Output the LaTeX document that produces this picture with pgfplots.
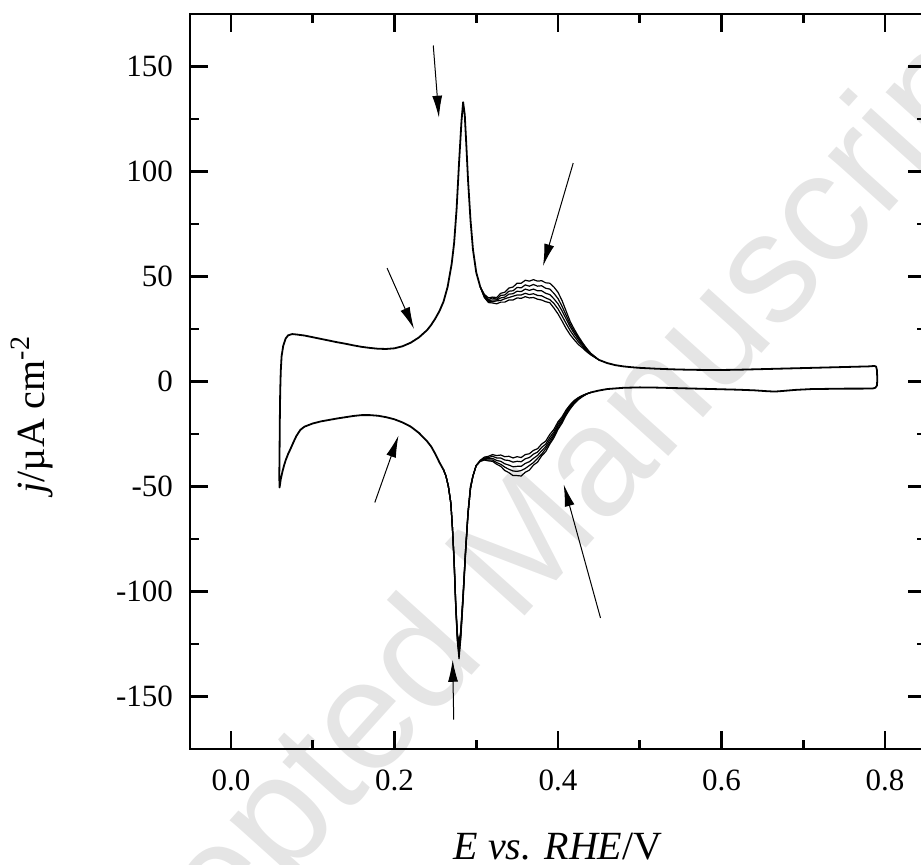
\documentclass[border=0pt]{standalone}
\usepackage{fontspec}
\setmainfont{Liberation Serif}
\newfontfamily\wmfont{Liberation Sans}
\usepackage{pgfplots}
\pgfplotsset{compat=1.18}
\usetikzlibrary{arrows.meta}

\begin{document}
\begin{tikzpicture}
% watermark behind the chart
\node[rotate=48, text=black!10, font=\wmfont\fontsize{78}{80}\selectfont] at (160pt,88pt) {Accepted Manuscript};

\begin{axis}[
    scale only axis, width=368pt, height=367.5pt,
    xmin=-0.05, xmax=0.85, ymin=-175, ymax=175,
    xtick={0,0.2,0.4,0.6,0.8},
    ytick={-150,-100,-50,0,50,100,150},
    minor x tick num=1, minor y tick num=1,
    tick align=inside,
    major tick length=9pt, minor tick length=4.5pt,
    tick style={line width=1.3pt, black},
    axis line style={line width=1.3pt},
    /pgf/number format/assume math mode=true,
    tick label style={font=\fontsize{15.5}{18}\selectfont},
    x tick label style={/pgf/number format/.cd, fixed, fixed zerofill, precision=1, /tikz/.cd, yshift=-7pt},
    y tick label style={xshift=-5pt},
    label style={font=\fontsize{20}{24}\selectfont},
    xlabel={\textit{E vs. RHE}/V},
    ylabel={\textit{j}/µA cm\textsuperscript{-2}},
    xlabel style={at={(axis description cs:0.5,-0.151)}, anchor=base},
    ylabel style={at={(axis description cs:-0.177,0.455)}, anchor=south},
]

% common part: cathodic tail, turn at 0.06 V, anodic scan and hydrogen peak
\addplot[black, line width=0.9pt, line join=round] coordinates {
(0.260,-42.0) (0.255,-38.5) (0.250,-34.5) (0.245,-31.0) (0.240,-28.5) (0.235,-26.5)
(0.230,-24.5) (0.220,-21.5) (0.210,-19.5) (0.200,-18.0) (0.190,-17.0) (0.180,-16.3)
(0.170,-16.0) (0.160,-16.0) (0.150,-16.4) (0.140,-17.0) (0.130,-17.6) (0.120,-18.3)
(0.110,-19.0) (0.100,-20.0) (0.090,-21.5) (0.085,-23.0) (0.080,-26.0) (0.077,-28.5)
(0.073,-32.0) (0.070,-34.5) (0.067,-37.5) (0.065,-40.0) (0.063,-43.0) (0.061,-46.5)
(0.0595,-50.5) (0.0592,-45) (0.0595,-35) (0.0598,-20) (0.0603,-5) (0.061,5) (0.062,12)
(0.064,17) (0.067,20.5) (0.070,22) (0.075,22.6) (0.080,22.4) (0.090,21.9) (0.100,21.1)
(0.110,20.3) (0.120,19.5) (0.130,18.7) (0.140,18.0) (0.150,17.2) (0.160,16.5)
(0.170,16.0) (0.180,15.6) (0.190,15.5) (0.200,15.8) (0.210,16.8) (0.220,18.5)
(0.230,21.0) (0.240,24.5) (0.245,27.0) (0.250,30.0) (0.255,33.5) (0.260,38.0)
(0.265,45) (0.270,56) (0.273,66) (0.276,82) (0.279,104) (0.282,124) (0.284,133)
(0.286,127) (0.288,112) (0.290,96) (0.293,77) (0.296,63) (0.300,52) (0.305,45)
};

% common part: double layer region and upper turn at 0.79 V
\addplot[black, line width=0.9pt, line join=round] coordinates {
(0.450,10.3) (0.460,8.8) (0.470,7.8) (0.480,7.2) (0.490,6.8) (0.500,6.5) (0.520,6.1)
(0.540,5.8) (0.560,5.6) (0.580,5.5) (0.600,5.5) (0.620,5.6) (0.640,5.8) (0.660,6.0)
(0.680,6.2) (0.700,6.4) (0.720,6.6) (0.740,6.8) (0.760,7.0) (0.780,7.2) (0.787,7.4)
(0.789,7.1) (0.790,5.5) (0.7905,1.0) (0.790,-2.0) (0.788,-3.0) (0.785,-3.3)
(0.770,-3.4) (0.750,-3.4) (0.730,-3.5) (0.710,-3.6) (0.690,-4.0) (0.675,-4.5)
(0.665,-4.8) (0.655,-4.6) (0.640,-4.2) (0.620,-3.9) (0.600,-3.7) (0.580,-3.5)
(0.560,-3.3) (0.540,-3.1) (0.520,-2.9) (0.500,-2.8) (0.480,-3.0) (0.460,-3.6)
(0.450,-4.3) (0.440,-5.2)
};

% anodic humps, cycles 1-5
\addplot[black, line width=0.6pt] coordinates {
(0.305,45) (0.310,41.5) (0.315,39.8) (0.320,40.2) (0.325,40.0) (0.330,42.0) (0.335,42.5)
(0.340,44.5) (0.345,45.0) (0.350,46.8) (0.355,46.8) (0.360,48.2) (0.365,47.8)
(0.370,48.5) (0.375,47.8) (0.380,48.0) (0.385,47.0) (0.390,46.8) (0.395,45.0)
(0.400,42.5) (0.405,38.5) (0.410,33.5) (0.415,28.5) (0.420,24.8) (0.425,21.5)
(0.430,18.5) (0.435,15.8) (0.440,13.5) (0.450,10.3)
};
\addplot[black, line width=0.6pt] coordinates {
(0.305,45) (0.310,41.0) (0.315,39.0) (0.320,39.8) (0.325,39.2) (0.330,41.0) (0.335,41.2)
(0.340,43.0) (0.345,43.2) (0.350,44.8) (0.355,44.6) (0.360,46.0) (0.365,45.4)
(0.370,46.2) (0.375,45.4) (0.380,45.6) (0.385,44.4) (0.390,44.0) (0.395,42.0)
(0.400,39.5) (0.405,35.8) (0.410,31.5) (0.415,27.2) (0.420,23.8) (0.425,20.8)
(0.430,18.0) (0.435,15.4) (0.440,13.3) (0.450,10.3)
};
\addplot[black, line width=0.6pt] coordinates {
(0.305,45) (0.310,40.6) (0.315,38.6) (0.320,38.8) (0.325,38.8) (0.330,39.8) (0.335,40.2)
(0.340,41.6) (0.345,41.8) (0.350,43.0) (0.355,42.8) (0.360,44.0) (0.365,43.4)
(0.370,44.0) (0.375,43.2) (0.380,43.2) (0.385,42.0) (0.390,41.4) (0.395,39.4)
(0.400,37.0) (0.405,33.6) (0.410,29.8) (0.415,26.0) (0.420,22.8) (0.425,20.0)
(0.430,17.5) (0.435,15.0) (0.440,13.1) (0.450,10.3)
};
\addplot[black, line width=0.6pt] coordinates {
(0.305,45) (0.310,40.2) (0.315,38.2) (0.320,38.0) (0.325,38.4) (0.330,38.6) (0.335,39.4)
(0.340,40.0) (0.345,40.6) (0.350,41.2) (0.355,41.2) (0.360,42.0) (0.365,41.4)
(0.370,41.8) (0.375,41.0) (0.380,40.8) (0.385,39.8) (0.390,39.0) (0.395,37.2)
(0.400,34.6) (0.405,31.2) (0.410,27.6) (0.415,24.2) (0.420,21.4) (0.425,18.9)
(0.430,16.8) (0.435,14.6) (0.440,12.9) (0.450,10.3)
};
\addplot[black, line width=0.6pt] coordinates {
(0.305,45) (0.310,40.0) (0.315,37.6) (0.320,37.4) (0.325,37.0) (0.330,37.8) (0.335,37.8)
(0.340,38.8) (0.345,38.8) (0.350,39.8) (0.355,39.6) (0.360,40.4) (0.365,39.8)
(0.370,40.0) (0.375,39.2) (0.380,38.8) (0.385,38.0) (0.390,37.5) (0.395,35.0)
(0.400,32.2) (0.405,28.8) (0.410,25.2) (0.415,22.2) (0.420,19.8) (0.425,17.6)
(0.430,16.0) (0.435,14.2) (0.440,12.7) (0.450,10.3)
};

% cathodic humps and hydrogen peak, cycles 1-5
\addplot[black, line width=0.6pt] coordinates {
(0.440,-5.2) (0.435,-5.8) (0.430,-6.6) (0.425,-7.6) (0.420,-9.0) (0.415,-11.0)
(0.410,-13.5) (0.405,-16.8) (0.400,-19.2) (0.395,-22.8) (0.390,-25.2) (0.385,-28.4)
(0.380,-29.8) (0.375,-32.0) (0.370,-32.8) (0.365,-34.4) (0.360,-34.8) (0.355,-36.2)
(0.350,-35.8) (0.345,-36.4) (0.340,-35.6) (0.335,-35.8) (0.330,-35.0) (0.325,-35.3)
(0.320,-34.8) (0.315,-35.6) (0.310,-36.0) (0.305,-37.5)
(0.300,-40) (0.296,-45) (0.293,-50) (0.290,-62) (0.287,-80) (0.284,-101) (0.281,-119)
(0.279,-124) (0.277,-120) (0.275,-106) (0.273,-85) (0.271,-70) (0.269,-58) (0.266,-50)
(0.263,-45) (0.260,-42)
};
\addplot[black, line width=0.6pt] coordinates {
(0.440,-5.2) (0.435,-5.9) (0.430,-6.8) (0.425,-7.9) (0.420,-9.4) (0.415,-11.5)
(0.410,-14.2) (0.405,-17.6) (0.400,-20.2) (0.395,-24.0) (0.390,-26.6) (0.385,-29.8)
(0.380,-31.4) (0.375,-33.6) (0.370,-34.6) (0.365,-36.2) (0.360,-36.8) (0.355,-38.2)
(0.350,-38.0) (0.345,-38.4) (0.340,-37.6) (0.335,-37.4) (0.330,-36.4) (0.325,-36.4)
(0.320,-35.6) (0.315,-36.2) (0.310,-36.4) (0.305,-37.6)
(0.300,-40) (0.296,-45) (0.293,-50) (0.290,-62) (0.287,-80) (0.284,-101) (0.281,-120)
(0.279,-126) (0.277,-121) (0.275,-106) (0.273,-85) (0.271,-70) (0.269,-58) (0.266,-50)
(0.263,-45) (0.260,-42)
};
\addplot[black, line width=0.6pt] coordinates {
(0.440,-5.2) (0.435,-5.9) (0.430,-6.9) (0.425,-8.1) (0.420,-9.8) (0.415,-12.0)
(0.410,-14.8) (0.405,-18.4) (0.400,-21.2) (0.395,-25.0) (0.390,-27.8) (0.385,-31.0)
(0.380,-33.0) (0.375,-35.2) (0.370,-36.6) (0.365,-38.2) (0.360,-39.0) (0.355,-40.4)
(0.350,-40.4) (0.345,-40.6) (0.340,-39.8) (0.335,-39.2) (0.330,-38.0) (0.325,-37.6)
(0.320,-36.6) (0.315,-36.8) (0.310,-36.8) (0.305,-37.8)
(0.300,-40) (0.296,-45) (0.293,-51) (0.290,-63) (0.287,-81) (0.284,-102) (0.281,-121)
(0.279,-128) (0.277,-122) (0.275,-107) (0.273,-86) (0.271,-70) (0.269,-58) (0.266,-50)
(0.263,-45) (0.260,-42)
};
\addplot[black, line width=0.6pt] coordinates {
(0.440,-5.2) (0.435,-6.0) (0.430,-7.0) (0.425,-8.3) (0.420,-10.1) (0.415,-12.5)
(0.410,-15.4) (0.405,-19.0) (0.400,-22.2) (0.395,-25.8) (0.390,-29.0) (0.385,-32.0)
(0.380,-34.6) (0.375,-36.6) (0.370,-38.6) (0.365,-40.0) (0.360,-41.4) (0.355,-42.4)
(0.350,-42.8) (0.345,-42.6) (0.340,-41.8) (0.335,-40.8) (0.330,-39.4) (0.325,-38.6)
(0.320,-37.4) (0.315,-37.4) (0.310,-37.2) (0.305,-38.0)
(0.300,-40) (0.296,-45) (0.293,-51) (0.290,-63) (0.287,-81) (0.284,-103) (0.281,-122)
(0.279,-130) (0.277,-123) (0.275,-107) (0.273,-86) (0.271,-70) (0.269,-58) (0.266,-50)
(0.263,-45) (0.260,-42)
};
\addplot[black, line width=0.6pt] coordinates {
(0.440,-5.2) (0.435,-6.0) (0.430,-7.2) (0.425,-8.6) (0.420,-10.5) (0.415,-13.0)
(0.410,-16.0) (0.405,-19.8) (0.400,-22.8) (0.395,-26.8) (0.390,-29.8) (0.385,-33.4)
(0.380,-35.4) (0.375,-38.4) (0.370,-39.8) (0.365,-42.2) (0.360,-43.2) (0.355,-45.0)
(0.350,-44.8) (0.345,-44.8) (0.340,-43.4) (0.335,-42.4) (0.330,-40.4) (0.325,-39.4)
(0.320,-38.0) (0.315,-37.8) (0.310,-37.4) (0.305,-38.0)
(0.300,-40) (0.296,-45) (0.293,-51) (0.290,-63) (0.287,-82) (0.284,-104) (0.281,-123)
(0.279,-132) (0.277,-124) (0.275,-108) (0.273,-87) (0.271,-71) (0.269,-58) (0.266,-50)
(0.263,-45) (0.260,-42)
};

% arrows marking the changes with cycling
\begin{scope}[-{Latex[length=11pt,width=5pt]}, line width=0.5pt]
\draw (axis cs:0.2475,160) -- (axis cs:0.2544,125.6);
\draw (axis cs:0.191,54) -- (axis cs:0.224,25);
\draw (axis cs:0.4186,104) -- (axis cs:0.3817,55);
\draw (axis cs:0.176,-57.6) -- (axis cs:0.205,-25.7);
\draw (axis cs:0.452,-112.6) -- (axis cs:0.407,-49);
\draw (axis cs:0.2725,-161) -- (axis cs:0.2712,-132.5);
\end{scope}
\end{axis}
\pgfresetboundingbox
\path[use as bounding box] (-95pt,-57.5pt) rectangle (365.5pt,374.5pt);
\end{tikzpicture}
\end{document}
